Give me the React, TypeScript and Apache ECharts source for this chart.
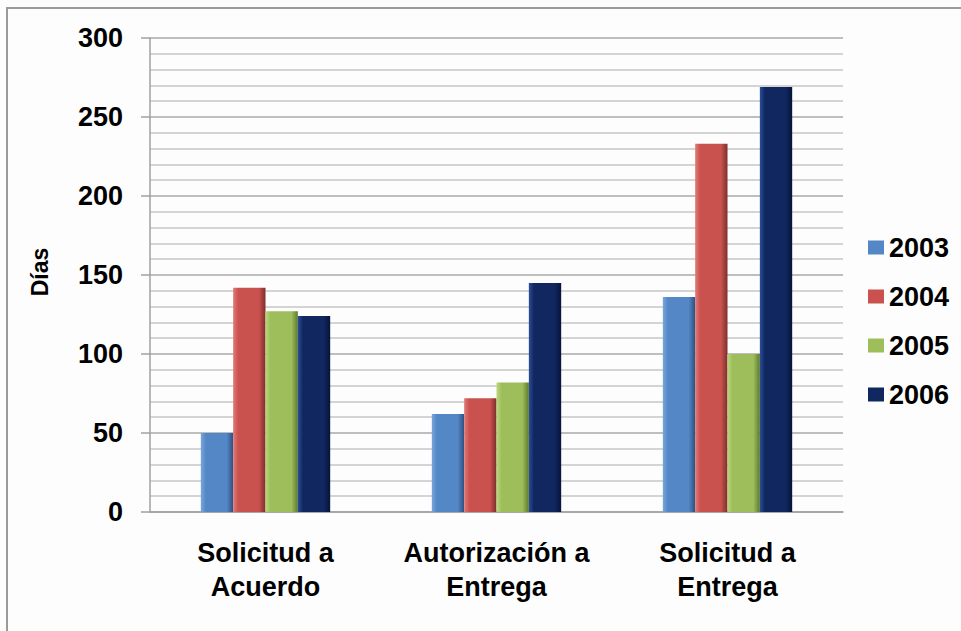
import React, { useEffect, useRef } from "react";
import * as echarts from "echarts";

const categories = ["Solicitud a\nAcuerdo", "Autorización a\nEntrega", "Solicitud a\nEntrega"];
const seriesNames = ["2003", "2004", "2005", "2006"];
const values2003 = [50, 62, 136];
const values2004 = [142, 72, 233];
const values2005 = [127, 82, 100];
const values2006 = [124, 145, 269];
const yTicks = { min: 0, max: 300, interval: 50 };
const yTitle = "Días";

const palette = [
  { light: "#7aa6dc", base: "#5487c6", dark: "#2c5080" },
  { light: "#e07a77", base: "#c9514e", dark: "#7e2e2c" },
  { light: "#bcd77e", base: "#9dbe5a", dark: "#5d7a2e" },
  { light: "#2c4f98", base: "#10275f", dark: "#061437" },
];

function grad(p: { light: string; base: string; dark: string }) {
  return new echarts.graphic.LinearGradient(0, 0, 1, 0, [
    { offset: 0, color: p.light },
    { offset: 0.16, color: p.base },
    { offset: 0.8, color: p.base },
    { offset: 1, color: p.dark },
  ]);
}

const FONT = "Liberation Sans, Arial, sans-serif";

export default function App() {
  const ref = useRef<HTMLDivElement>(null);
  useEffect(() => {
    if (!ref.current) return;
    const chart = echarts.init(ref.current, null, { renderer: "svg" });
    const data = [values2003, values2004, values2005, values2006];
    chart.setOption({
      animation: false,
      backgroundColor: "#fdfdfd",
      textStyle: { fontFamily: FONT },
      graphic: [
        {
          type: "rect",
          shape: { x: 7, y: 8, width: 1000, height: 700 },
          style: { fill: "none", stroke: "#9a9a9a", lineWidth: 2 },
          z: 100,
        },
        {
          type: "text",
          x: 40,
          y: 272,
          rotation: Math.PI / 2,
          style: {
            text: yTitle,
            fontSize: 23,
            fontWeight: "bold",
            fontFamily: FONT,
            fill: "#000",
            align: "center",
            verticalAlign: "middle",
          },
        },
      ],
      grid: { left: 150, right: 118, top: 38, bottom: 119 },
      legend: {
        orient: "vertical",
        left: 863,
        top: 229,
        itemWidth: 16,
        itemHeight: 14,
        itemGap: 22,
        icon: "rect",
        data: seriesNames.map((n, i) => ({ name: n, itemStyle: { color: palette[i].base } })),
        textStyle: { fontSize: 27, fontWeight: "bold", color: "#000", fontFamily: FONT },
      },
      xAxis: {
        type: "category",
        data: categories,
        axisLine: { show: true, lineStyle: { color: "#a0a0a0", width: 1.5 } },
        axisTick: { show: false },
        axisLabel: {
          interval: 0,
          fontSize: 27,
          fontWeight: "bold",
          color: "#000",
          lineHeight: 34,
          margin: 24,
        },
      },
      yAxis: {
        type: "value",
        min: yTicks.min,
        max: yTicks.max,
        interval: yTicks.interval,
        axisLine: { show: true, lineStyle: { color: "#a0a0a0", width: 1.5 } },
        axisTick: { show: true, length: 9, lineStyle: { color: "#a0a0a0", width: 1.5 } },
        axisLabel: { fontSize: 27, fontWeight: "bold", color: "#000", margin: 27 },
        splitLine: { show: true, lineStyle: { color: "#a8a8a8", width: 1.5 } },
        minorTick: { show: false, splitNumber: 5 },
        minorSplitLine: { show: true, lineStyle: { color: "#c6c6c6", width: 1.5 } },
      },
      series: seriesNames.map((n, i) => ({
        name: n,
        type: "bar",
        data: data[i],
        barGap: "0%",
        barCategoryGap: "44%",
        itemStyle: { color: grad(palette[i]) },
      })),
    });
    return () => chart.dispose();
  }, []);
  return (
    <div
      ref={ref}
      style={{ position: "fixed", left: 0, top: 0, width: 961, height: 631 }}
    />
  );
}
